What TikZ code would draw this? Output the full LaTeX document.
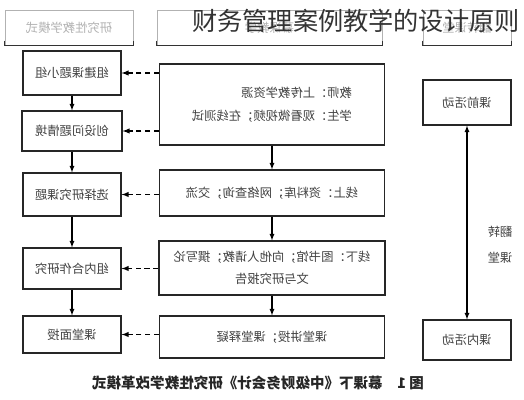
\documentclass[tikz,border=0pt]{standalone}
\usepackage{fontspec}
\setmainfont{Noto Sans CJK SC}
\usepackage{graphicx}
\usetikzlibrary{arrows,positioning}
\newcommand{\flipTxt}[1]{\reflectbox{#1}}
\newcommand{\flipTwo}[3]{\reflectbox{\begin{tabular}{@{}#1@{}}#2\\#3\end{tabular}}}
\tikzset{FCBox/.style={rectangle,draw=black!85,line width=1pt,text=black!75,font=\fontsize{10.5}{19}\selectfont,inner sep=0pt}}
\tikzset{FCHead/.style={rectangle,draw=black!30,line width=.6pt,text=black!30,font=\fontsize{10.5}{13}\selectfont,minimum height=1.05cm}}
\tikzset{FCFlow/.style={-latex,line width=.9pt}}
\tikzset{FCLink/.style={-latex,line width=1.1pt,dash pattern=on 4.5pt off 3pt}}

\begin{document}
\begin{tikzpicture}[x=0.03cm,y=-0.03cm]
\useasboundingbox (0,0) rectangle (524,400);
\node (h1) at (69,27.5) [FCHead,minimum width=3.84cm] {\flipTxt{研究性教学模式}};
\node (h2) at (269.5,27.5) [FCHead,minimum width=6.75cm] {\flipTxt{慕课教学}};
\node (h3) at (467,27.5) [FCHead,minimum width=2.64cm] {\flipTxt{翻转课堂}};
\foreach \h in {h1,h2,h3}
  \draw [line width=1pt,black!80] ([yshift=4pt]\h.south west) -- (\h.south west) -- (\h.south east) -- ([yshift=4pt]\h.south east);
\node (l1) at (72,73) [FCBox,minimum width=2.94cm,minimum height=1.32cm] {\flipTxt{组建课题小组}};
\node (l2) at (72,131) [FCBox,minimum width=3cm,minimum height=1.2cm] {\flipTxt{创设问题情境}};
\node (l3) at (72,194.5) [FCBox,minimum width=2.94cm,minimum height=1.29cm] {\flipTxt{选择研究课题}};
\node (l4) at (72,268.5) [FCBox,minimum width=2.94cm,minimum height=1.23cm] {\flipTxt{组内合作研究}};
\node (l5) at (72,334.5) [FCBox,minimum width=2.94cm,minimum height=1.11cm] {\flipTxt{课堂面授}};
\node (m1) at (272,104.5) [FCBox,minimum width=6.75cm,minimum height=2.43cm] {\flipTwo{l}{教师：上传教学资源}{学生：观看微视频；在线测试}};
\node (m2) at (272,193) [FCBox,minimum width=6.75cm,minimum height=1.38cm] {\flipTxt{线上：资料库；网络查询；交流}};
\node (m3) at (272,268) [FCBox,minimum width=6.78cm,minimum height=1.62cm] {\flipTwo{c}{线下：图书馆；向他人请教；撰写论}{文与研究报告}};
\node (m4) at (272,337) [FCBox,minimum width=6.75cm,minimum height=1.26cm] {\flipTxt{课堂讲授；课堂释疑}};
\node (r1) at (467,102.5) [FCBox,minimum width=2.64cm,minimum height=1.35cm] {\flipTxt{课前活动}};
\node (r2) at (467,340) [FCBox,minimum width=2.64cm,minimum height=1.2cm] {\flipTxt{课内活动}};
\draw [FCFlow] (l1) -- (l2);
\draw [FCFlow] (l2) -- (l3);
\draw [FCFlow] (l3) -- (l4);
\draw [FCFlow] (l4) -- (l5);
\draw [FCFlow] (m1) -- (m2);
\draw [FCFlow] (m2) -- (m3);
\draw [FCFlow] (m3) -- (m4);
\draw [FCLink] (m1.west |- l1.east) -- (l1.east);
\draw [FCLink] (m1.west |- l2.east) -- (l2.east);
\draw [FCLink] (m2.west |- l3.east) -- (l3.east);
\draw [FCLink] (m3.west |- l4.east) -- (l4.east);
\draw [FCLink] (m4.west |- l5.east) -- (l5.east);
\draw [FCFlow,latex-latex] (r1) -- (r2);
\node (flip) at (500,244) [text=black!75,font=\fontsize{10.5}{22}\selectfont] {\flipTwo{c}{翻转}{课堂}};
\node (cap) at (258,383) [text=black!85,font=\fontsize{12.4}{15}\selectfont\bfseries] {\flipTxt{图 1\quad 慕课下《中级财务会计》研究性教学改革模式}};
\node (title) at (356,21) [text=black!80,font=\fontsize{21.5}{24}\selectfont] {财务管理案例教学的设计原则};
\end{tikzpicture}
\end{document}
